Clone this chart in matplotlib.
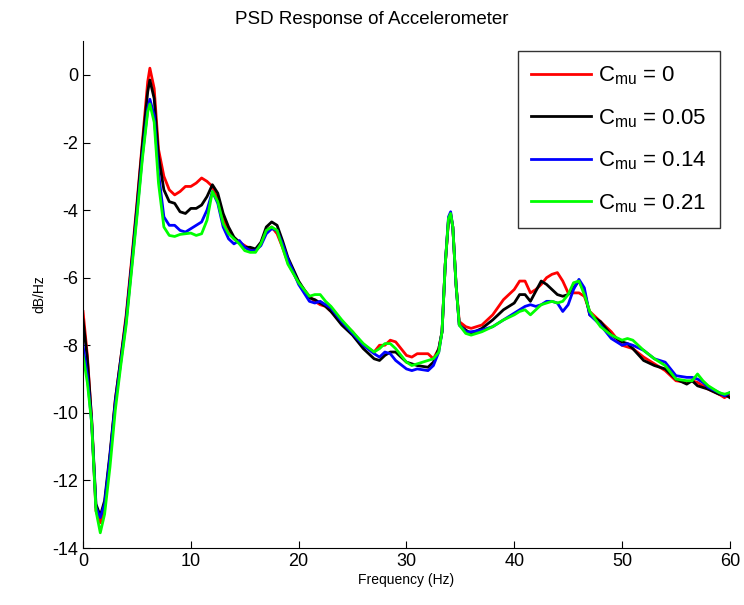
import numpy as np
import matplotlib
matplotlib.use("Agg")
import matplotlib.pyplot as plt

plt.rcParams['font.family'] = ['Liberation Sans', 'DejaVu Sans']
plt.rcParams['mathtext.default'] = 'regular'
plt.rcParams['axes.unicode_minus'] = False

freq = [0, 0.4, 0.8, 1.2, 1.6, 2.0, 2.5, 3.0, 3.5, 4.0, 4.5, 5.0, 5.5, 6.0, 6.2, 6.6,
        7.0, 7.5, 8.0, 8.5, 9.0, 9.5, 10.0, 10.5, 11.0, 11.5, 12.0, 12.5, 13.0, 13.5,
        14.0, 14.5, 15.0, 15.5, 16.0, 16.5, 17.0, 17.5, 18.0, 18.5, 19.0, 20.0, 21.0,
        21.5, 22.0, 22.5, 23.0, 24.0, 25.0, 26.0, 27.0, 27.5, 28.0, 28.5, 29.0, 30.0,
        30.5, 31.0, 32.0, 32.5, 33.0, 33.3, 33.6, 33.9, 34.1, 34.3, 34.6, 34.9, 35.5,
        36.0, 37.0, 38.0, 39.0, 40.0, 40.5, 41.0, 41.5, 42.0, 42.5, 43.0, 43.5, 44.0,
        44.5, 45.0, 45.5, 46.0, 46.5, 47.0, 48.0, 49.0, 50.0, 50.5, 51.0, 52.0, 53.0,
        54.0, 55.0, 56.0, 56.5, 57.0, 57.5, 58.0, 59.0, 59.5, 60.0]

psd_c0 = [-7.0, -8.3, -10.2, -12.9, -13.25, -12.8, -11.3, -9.6, -8.4, -7.1, -5.5, -3.8, -2.0, -0.2, 0.2, -0.4,
          -2.2, -3.0, -3.4, -3.55, -3.45, -3.3, -3.3, -3.2, -3.05, -3.15, -3.3, -3.7, -4.25, -4.6,
          -4.85, -4.95, -5.05, -5.15, -5.2, -5.0, -4.6, -4.5, -4.7, -5.1, -5.55, -6.15, -6.55,
          -6.7, -6.8, -6.85, -7.0, -7.3, -7.6, -8.0, -8.2, -8.0, -8.0, -7.85, -7.9, -8.3,
          -8.35, -8.25, -8.25, -8.4, -8.1, -7.6, -5.6, -4.3, -4.1, -4.5, -6.2, -7.3, -7.45,
          -7.5, -7.4, -7.1, -6.65, -6.35, -6.1, -6.1, -6.45, -6.35, -6.2, -6.0, -5.9, -5.85,
          -6.1, -6.45, -6.45, -6.45, -6.55, -7.0, -7.3, -7.6, -8.0, -8.05, -8.1, -8.35, -8.55,
          -8.75, -9.05, -9.1, -9.05, -9.1, -9.2, -9.3, -9.45, -9.55, -9.45]

psd_c005 = [-7.25, -8.4, -10.2, -12.7, -13.05, -12.6, -11.2, -9.6, -8.4, -7.2, -5.6, -3.9, -2.1, -0.5, -0.15, -0.7,
            -2.4, -3.4, -3.75, -3.8, -4.05, -4.1, -3.95, -3.95, -3.85, -3.6, -3.25, -3.5, -4.1, -4.5,
            -4.8, -4.95, -5.1, -5.1, -5.15, -4.95, -4.5, -4.35, -4.45, -4.9, -5.4, -6.1, -6.6,
            -6.65, -6.75, -6.85, -7.0, -7.4, -7.7, -8.1, -8.4, -8.45, -8.3, -8.2, -8.2, -8.5,
            -8.55, -8.6, -8.65, -8.5, -8.1, -7.6, -5.6, -4.3, -4.15, -4.5, -6.2, -7.4, -7.55,
            -7.65, -7.5, -7.25, -6.95, -6.75, -6.5, -6.5, -6.7, -6.4, -6.1, -6.2, -6.35, -6.5,
            -6.55, -6.5, -6.3, -6.1, -6.4, -7.1, -7.3, -7.7, -7.9, -7.95, -8.1, -8.45, -8.6,
            -8.7, -9.0, -9.15, -9.05, -9.2, -9.25, -9.3, -9.45, -9.45, -9.55]

psd_c014 = [-8.0, -8.9, -10.3, -12.8, -13.1, -12.7, -11.3, -9.7, -8.5, -7.3, -5.7, -4.1, -2.4, -1.0, -0.72, -1.2,
            -2.9, -4.2, -4.45, -4.45, -4.6, -4.65, -4.55, -4.45, -4.35, -4.0, -3.45, -3.8, -4.5, -4.85,
            -5.0, -4.9, -5.1, -5.2, -5.2, -5.05, -4.7, -4.55, -4.6, -5.0, -5.45, -6.2, -6.7,
            -6.75, -6.7, -6.8, -6.9, -7.3, -7.65, -8.0, -8.25, -8.35, -8.2, -8.25, -8.45, -8.7,
            -8.75, -8.7, -8.75, -8.6, -8.2, -7.6, -5.6, -4.2, -4.05, -4.5, -6.2, -7.4, -7.6,
            -7.6, -7.55, -7.45, -7.25, -7.05, -6.95, -6.85, -6.8, -6.85, -6.8, -6.7, -6.7, -6.75,
            -7.0, -6.8, -6.35, -6.05, -6.3, -7.1, -7.4, -7.8, -8.0, -7.95, -8.0, -8.15, -8.4,
            -8.5, -8.9, -8.95, -8.95, -9.0, -9.1, -9.25, -9.4, -9.5, -9.4]

psd_c021 = [-8.3, -9.1, -10.3, -12.9, -13.55, -13.0, -11.6, -9.9, -8.6, -7.4, -5.8, -4.2, -2.5, -1.1, -0.86, -1.4,
            -3.2, -4.5, -4.75, -4.78, -4.72, -4.7, -4.68, -4.75, -4.7, -4.3, -3.45, -3.75, -4.4, -4.7,
            -4.85, -5.0, -5.2, -5.25, -5.25, -5.0, -4.6, -4.5, -4.6, -5.1, -5.6, -6.15, -6.55,
            -6.5, -6.5, -6.7, -6.85, -7.25, -7.6, -7.95, -8.2, -8.1, -7.95, -7.95, -8.1, -8.5,
            -8.6, -8.55, -8.45, -8.4, -8.2, -7.6, -5.6, -4.25, -4.1, -4.5, -6.2, -7.4, -7.65,
            -7.7, -7.6, -7.45, -7.25, -7.1, -7.0, -6.95, -7.1, -6.95, -6.8, -6.75, -6.7, -6.75,
            -6.7, -6.5, -6.15, -6.1, -6.5, -7.0, -7.45, -7.7, -7.85, -7.8, -7.85, -8.15, -8.4,
            -8.6, -9.0, -9.05, -9.05, -8.85, -9.05, -9.2, -9.4, -9.45, -9.4]

labels = ['C$_{mu}$ = 0', 'C$_{mu}$ = 0.05', 'C$_{mu}$ = 0.14', 'C$_{mu}$ = 0.21']
colors = ['#ff0000', '#000000', '#0000ff', '#00ff00']

fig = plt.figure(figsize=(7.44, 6.05), dpi=100)
ax = fig.add_axes([0.1116, 0.0942, 0.8694, 0.8378])

for y, lab, c in zip([psd_c0, psd_c005, psd_c014, psd_c021], labels, colors):
    ax.plot(freq, y, color=c, linewidth=2.0, label=lab)

ax.set_xlim(0, 60)
ax.set_ylim(-14, 1)
ax.set_xticks(np.arange(0, 61, 10))
ax.set_yticks(np.arange(-14, 1, 2))
ax.spines['top'].set_visible(False)
ax.spines['right'].set_visible(False)
ax.tick_params(direction='in', labelsize=13, length=5)
fig.text(0.5, 0.968, 'PSD Response of Accelerometer', fontsize=13.5,
         ha='center', va='center')
ax.set_xlabel('Frequency (Hz)', fontsize=10, labelpad=2)
ax.set_ylabel('dB/Hz', fontsize=10)

leg = ax.legend(loc='upper right', fontsize=16, handlelength=2.7, frameon=True,
                fancybox=False, borderpad=0.6, labelspacing=0.9, handletextpad=0.3,
                borderaxespad=0.45)
leg.get_frame().set_edgecolor('black')
leg.get_frame().set_linewidth(1.0)

fig.savefig('out.png', dpi=100)
